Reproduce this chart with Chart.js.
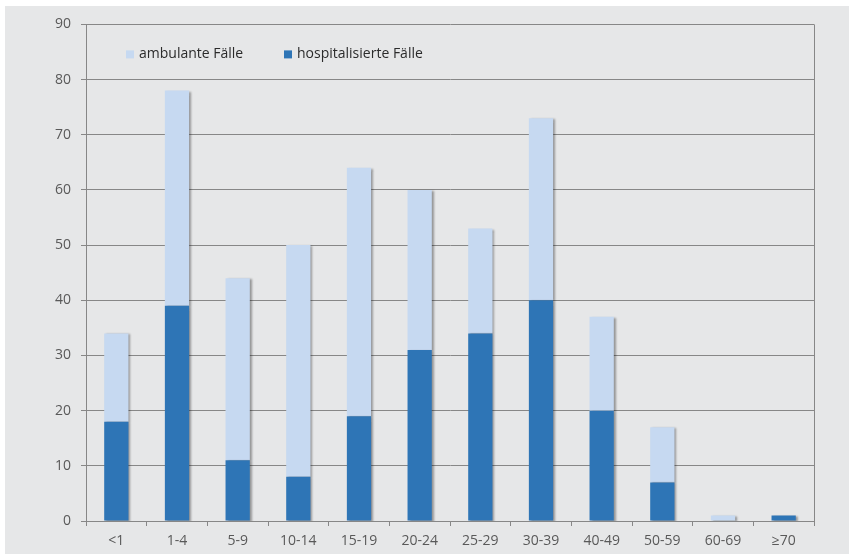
<!DOCTYPE html>
<html>
<head>
<meta charset="utf-8">
<script src="https://cdn.jsdelivr.net/npm/chart.js@4/dist/chart.umd.min.js"></script>
<style>
  body { margin:0; background:#fff; }
  #panel { position:absolute; left:5px; top:6px; width:844px; height:548px; background:#e6e7e8; }
</style>
</head>
<body>
<div id="panel"><canvas id="chart" width="844" height="548"></canvas></div>
<script>
// age groups and case counts
const categories = ['<1','1-4','5-9','10-14','15-19','20-24','25-29','30-39','40-49','50-59','60-69','≥70'];
const hospitalisiert = [18,39,11,8,19,31,34,40,20,7,0,1];
const ambulant = [16,39,33,42,45,29,19,33,17,10,1,0];
const yTicks = [0,10,20,30,40,50,60,70,80,90];

const GRID = '#878787';
const FONT = 'Open Sans';

// legend inside the plot, shadow on the bars, right border
const extras = {
  id:'extras',
  beforeDatasetsDraw(chart){
    const ctx = chart.ctx;
    ctx.save();
    ctx.shadowColor = 'rgba(0,0,0,0.35)';
    ctx.shadowOffsetX = 2;
    ctx.shadowOffsetY = 1;
    ctx.shadowBlur = 2;
  },
  afterDatasetsDraw(chart){
    chart.ctx.restore();
  },
  afterDraw(chart){
    const a = chart.chartArea, ctx = chart.ctx;
    ctx.save();
    ctx.strokeStyle = GRID;
    ctx.lineWidth = 1;
    ctx.beginPath();
    ctx.moveTo(Math.round(a.right)+0.5, a.top);
    ctx.lineTo(Math.round(a.right)+0.5, a.bottom);
    ctx.stroke();

    // legend: ambulante first, then hospitalisierte
    const items = chart.data.datasets.slice().reverse();
    const xs = [a.left + 40, a.left + 198];
    const y = a.top + 30;
    ctx.font = '14px "' + FONT + '"';
    ctx.textBaseline = 'middle';
    items.forEach((ds, i) => {
      ctx.fillStyle = ds.backgroundColor;
      ctx.fillRect(xs[i], y - 4, 8, 8);
      ctx.fillStyle = '#2b2b2b';
      ctx.fillText(ds.label, xs[i] + 13, y);
    });
    ctx.restore();
  }
};

new Chart(document.getElementById('chart'), {
  type:'bar',
  data:{
    labels: categories,
    datasets:[
      {label:'hospitalisierte Fälle', data:hospitalisiert, backgroundColor:'#2e75b6'},
      {label:'ambulante Fälle', data:ambulant, backgroundColor:'#c6d9f1'}
    ]
  },
  options:{
    responsive:false,
    devicePixelRatio:1,
    animation:false,
    layout:{padding:{top:15,right:35,left:0,bottom:0}},
    datasets:{bar:{barPercentage:0.4, categoryPercentage:1}},
    plugins:{
      tooltip:{enabled:false},
      legend:{display:false}
    },
    scales:{
      x:{
        stacked:true,
        grid:{offset:true, drawOnChartArea:false, tickLength:5, color:GRID},
        border:{color:GRID},
        ticks:{color:'#595959', font:{family:FONT, size:14}, padding:7},
        afterFit(s){ s.height = 33; }
      },
      y:{
        stacked:true,
        min:0, max:90,
        afterBuildTicks(s){ s.ticks = yTicks.map(v => ({value:v})); },
        grid:{color:GRID, tickLength:5},
        border:{color:GRID},
        ticks:{color:'#595959', font:{family:FONT, size:14}, padding:10},
        afterFit(s){ s.width = 81; }
      }
    }
  },
  plugins:[extras]
});
</script>
</body>
</html>
